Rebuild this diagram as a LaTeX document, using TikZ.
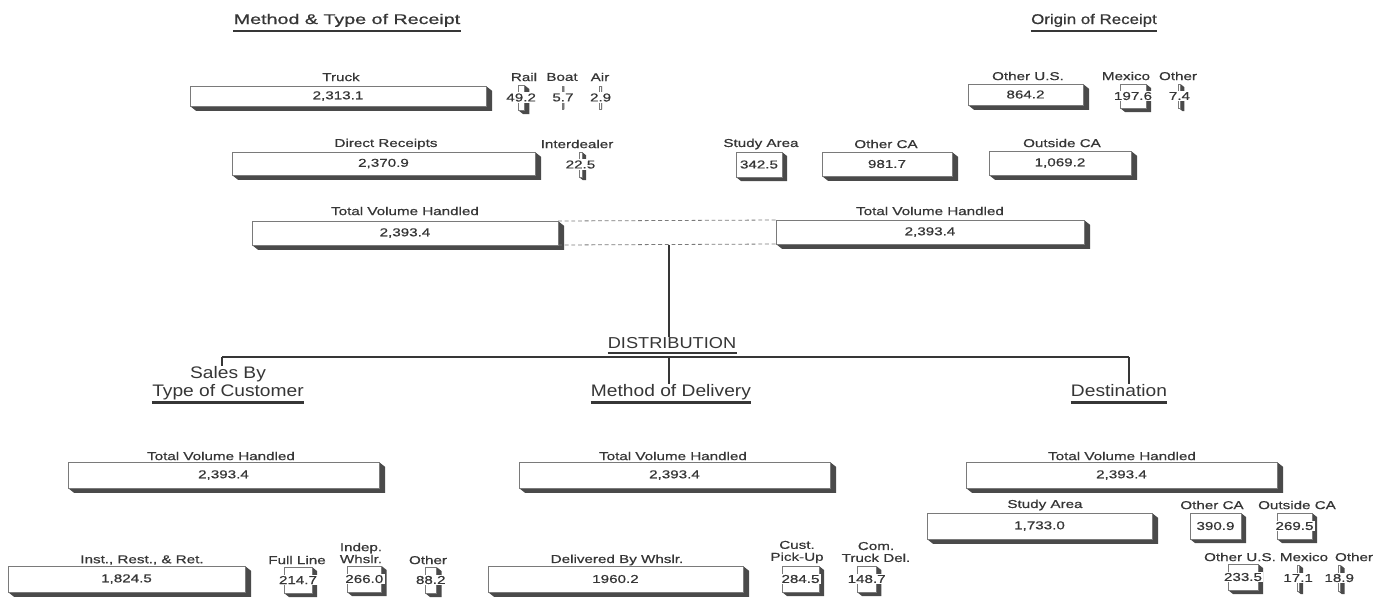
\documentclass[tikz,border=0pt]{standalone}
\usepackage{fontspec}
\setmainfont{Liberation Sans}
\newfontfamily\lblfont[FakeStretch=1.33,FakeBold=0.6]{Liberation Sans}
\newfontfamily\ttlfont[FakeStretch=1.4,FakeBold=0.8]{Liberation Sans}
\newfontfamily\ttlnfont[FakeStretch=1.2,FakeBold=0.8]{Liberation Sans}
\newfontfamily\hdgfont[FakeStretch=1.15]{Liberation Sans}
\usetikzlibrary{fit,backgrounds,calc}
\definecolor{ink}{HTML}{363636}
\definecolor{edge}{HTML}{7A7A7A}
\definecolor{side}{HTML}{4A4A4A}
\tikzset{
  lbl/.style={font=\lblfont\fontsize{6.5}{6.8}\selectfont, text=ink, inner sep=0pt, align=center},
  val/.style={font=\lblfont\fontsize{6.5}{6.8}\selectfont, text=ink, fill=white, inner sep=0.7pt},
  face/.style={draw=edge, line width=0.4pt, fill=white, inner sep=0pt, outer sep=0pt},
  ext/.style={fill=side},
  ttl/.style={font=\ttlfont\fontsize{8}{9}\selectfont, text=ink, inner sep=0pt, text depth=0.2em},
  hdg/.style={font=\hdgfont\fontsize{9.5}{8.6}\selectfont, text=ink, inner sep=0pt, align=center, text depth=0.2em},
  ul/.style={draw=ink, line width=1.3pt},
  conn/.style={draw=ink, line width=0.9pt},
  dsh/.style={draw=edge, line width=0.45pt, dash pattern=on 2.2pt off 1.6pt},
}
% #1 extrusion, #2 name, #3 x1, #4 y1, #5 x2, #6 y2, #7 value style, #8 value
\newcommand\barbox[8][5]{%
  \coordinate (#2-a) at (#3,#4);
  \coordinate (#2-b) at (#5,#6);
  \node[face, fit=(#2-a)(#2-b)] (#2) {};
  \begin{scope}[on background layer]
    \fill[ext] (#2.north east) -- ++(#1,0.8*#1) -- ([shift={(#1,0.8*#1)}]#2.south east)
      -- ([shift={(#1,0.8*#1)}]#2.south west) -- (#2.south west) -- cycle;
  \end{scope}
  \node[#7] (#2-v) at (#2.center) {#8};
}
\begin{document}
\begin{tikzpicture}[x=0.02cm,y=-0.02cm]
\begin{scope}[on background layer]
\fill[white] (0,0) rectangle (1386,600);
\end{scope}
\useasboundingbox (0,0) rectangle (1386,600);

% titles
\node[ttl, anchor=base] (tA) at (347,24) {Method \& Type of Receipt};
\node[ttl, font=\ttlnfont\fontsize{8}{9}\selectfont, anchor=base] (tB) at (1094,24) {Origin of Receipt};
\draw[ul] ([yshift=-1.6pt]tA.south west) -- ([yshift=-1.6pt]tA.south east);
\draw[ul] ([yshift=-1.6pt]tB.south west) -- ([yshift=-1.6pt]tB.south east);

% row 1
\node[lbl] (lTruck) at (341,77) {Truck};
\barbox[6]{bTruck}{190}{86}{486}{106}{val}{2,313.1}
\node[lbl] (lRail) at (524,77) {Rail};
\barbox[5]{bRail}{518}{85}{524.3}{110}{val}{49.2}
\node[lbl] (lBoat) at (562,77) {Boat};
\barbox[0.6]{bBoat}{562.6}{86}{563.3}{109}{val}{5.7}
\node[lbl] (lAir) at (600,77) {Air};
\barbox[0.6]{bAir}{600.4}{86}{600.8}{109}{val}{2.9}
\node[lbl] (lOUS) at (1028,76) {Other U.S.};
\barbox[6]{bOUS}{968}{84}{1083}{105}{val}{864.2}
\node[lbl] (lMex) at (1126,76) {Mexico};
\barbox[5]{bMex}{1120}{84}{1146}{108}{val}{197.6}
\node[lbl] (lOth) at (1178,76) {Other};
\barbox[4]{bOth}{1179}{84}{1180}{108}{val}{7.4}

% row 2
\node[lbl] (lDR) at (386,144) {Direct Receipts};
\barbox[6]{bDR}{232}{152}{535}{175}{val}{2,370.9}
\node[lbl] (lID) at (577,144) {Interdealer};
\barbox[4]{bID}{579}{152}{582}{177}{val}{22.5}
\node[lbl] (lSA) at (761,144) {Study Area};
\barbox[5]{bSA}{736}{152}{782}{177}{val}{342.5}
\node[lbl] (lOCA) at (886,144) {Other CA};
\barbox[6]{bOCA}{822}{152}{952}{176}{val}{981.7}
\node[lbl] (lXCA) at (1062,143) {Outside CA};
\barbox[6]{bXCA}{989}{151}{1131}{175}{val}{1,069.2}

% row 3
\node[lbl] (lTVL) at (405,211) {Total Volume Handled};
\barbox[6]{tvl}{252}{221}{558}{245}{val}{2,393.4}
\node[lbl] (lTVR) at (930,211) {Total Volume Handled};
\barbox[6]{tvr}{776}{220}{1084}{244}{val}{2,393.4}
\draw[dsh] (tvl.north east) -- (tvr.north west);
\draw[dsh] (tvl.south east) -- (tvr.south west);

% distribution
\node[hdg, font=\hdgfont\fontsize{9}{10}\selectfont, anchor=base] (dist) at (672,348) {DISTRIBUTION};
\draw[ul] ([yshift=-0.6pt]dist.south west) -- ([yshift=-0.6pt]dist.south east);
\node[hdg, anchor=south] (hS) at (228,400) {Sales By\\Type of Customer};
\node[hdg, anchor=south] (hM) at (671,400) {Method of Delivery};
\node[hdg, anchor=south] (hD) at (1119,400) {Destination};
\draw[ul] ([yshift=-1.4pt]hS.south west) -- ([yshift=-1.4pt]hS.south east);
\draw[ul] ([yshift=-1.4pt]hM.south west) -- ([yshift=-1.4pt]hM.south east);
\draw[ul] ([yshift=-1.4pt]hD.south west) -- ([yshift=-1.4pt]hD.south east);
\coordinate (jn) at (669,245);
\coordinate (cl) at (222,357);
\coordinate (cm) at (669,357);
\coordinate (cr) at (1129,357);
\draw[conn] (jn) -- (jn |- dist.north);
\draw[conn, line width=1.1pt] (cl) -- (cr);
\draw[conn] (cl) -- (cl |- hS.north);
\draw[conn] (cm) -- (cm |- hM.north);
\draw[conn] (cr) -- (cr |- hD.north);

% bottom totals
\node[lbl] (lBL) at (221,456) {Total Volume Handled};
\barbox[6]{bBL}{68}{462}{379}{488}{val}{2,393.4}
\node[lbl] (lBM) at (673,456) {Total Volume Handled};
\barbox[6]{bBM}{519}{462}{830}{488}{val}{2,393.4}
\node[lbl] (lBR) at (1122,456) {Total Volume Handled};
\barbox[6]{bBR}{966}{462}{1277}{488}{val}{2,393.4}

% destination
\node[lbl] (lDSA) at (1045,505) {Study Area};
\barbox[6]{bDSA}{927}{513}{1152}{539}{val}{1,733.0}
\node[lbl] (lDOC) at (1212,505) {Other CA};
\barbox[5]{bDOC}{1190}{513}{1241}{539}{val}{390.9}
\node[lbl] (lDXC) at (1297,505) {Outside CA};
\barbox[5]{bDXC}{1277}{513}{1312}{539}{val}{269.5}
\node[lbl] (lDUS) at (1240,557) {Other U.S.};
\barbox[5]{bDUS}{1228}{564}{1258}{590}{val}{233.5}
\node[lbl] (lDMX) at (1304,557) {Mexico};
\barbox[4]{bDMX}{1297}{565}{1299.2}{591}{val}{17.1}
\node[lbl] (lDOT) at (1354,557) {Other};
\barbox[4]{bDOT}{1338}{565}{1340.5}{591}{val}{18.9}

% customers
\node[lbl] (lIRR) at (142,560) {Inst., Rest., \& Ret.};
\barbox[6]{bIRR}{8}{566}{245}{592}{val}{1,824.5}
\node[lbl] (lFL) at (297,560) {Full Line};
\barbox[5]{bFL}{284}{567}{312}{593}{val}{214.7}
\node[lbl] (lIW) at (361,553) {Indep.\\Whslr.};
\barbox[5]{bIW}{347}{566}{381.6}{592}{val}{266.0}
\node[lbl] (lOT) at (428,560) {Other};
\barbox[5]{bOT}{425}{567}{436.5}{593}{val}{88.2}

% delivery
\node[lbl] (lDW) at (617,560) {Delivered By Whslr.};
\barbox[6]{bDW}{488}{566}{743}{592}{val}{1960.2}
\node[lbl] (lCP) at (797,552) {Cust.\\Pick-Up};
\barbox[5]{bCP}{782}{566}{819}{592}{val}{284.5}
\node[lbl] (lCT) at (876,552) {Com.\\Truck Del.};
\barbox[5]{bCT}{857}{566}{876.3}{592}{val}{148.7}
\end{tikzpicture}
\end{document}
